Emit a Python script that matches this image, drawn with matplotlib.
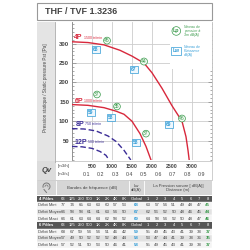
import matplotlib.pyplot as plt
import numpy as np
from matplotlib.patches import Rectangle, Arc
from matplotlib.ticker import MultipleLocator
import matplotlib.transforms as mtransforms

plt.rcParams['font.family'] = ['Liberation Sans', 'DejaVu Sans']

# fan curves (m3/h, Pa)
q_4p = [0, 400, 800, 1200, 1500, 1800, 2000, 2250, 2500, 2750, 2850, 2900, 2930]
p_4p = [305, 303, 297, 283, 268, 250, 225, 185, 140, 100, 60, 25, 0]
q_6p = [0, 400, 800, 1100, 1300, 1500, 1700, 1850, 1975]
p_6p = [143, 141, 135, 126, 118, 100, 68, 35, 0]
q_8p = [0, 300, 600, 900, 1100, 1300, 1470]
p_8p = [81, 80, 75, 62, 48, 25, 0]
q_12p = [0, 250, 500, 700, 850, 925]
p_12p = [35, 34, 30, 22, 12, 0]

# Lp circles / Lw squares on the chart
lp_q = [875, 1800, 2750, 625, 1125, 1850]
lp_p = [308, 254, 107, 169, 138, 68]
lp_txt = ['45', '44', '46', '37', '35', '37']
lw_q = [600, 1550, 2425, 475, 975, 1600]
lw_p = [285, 233, 91, 122, 110, 45]
lw_txt = ['68', '67', '69', '59', '58', '58']

m3h_ticks = [500, 1000, 1500, 2000, 2500, 3000]
m3s_ticks = [0.1, 0.2, 0.3, 0.4, 0.5, 0.6, 0.7, 0.8, 0.9]

bands = ['63', '125', '250', '500', '1K', '2K', '4K', '8K']
rows_4p = [[77, 74, 65, 63, 63, 60, 57, 53],
           [66, 58, 58, 61, 61, 63, 54, 50],
           [66, 61, 63, 64, 64, 62, 58, 52]]
rows_6p = [[68, 67, 59, 54, 54, 51, 46, 42],
           [57, 49, 50, 52, 52, 52, 48, 44],
           [57, 52, 51, 50, 53, 50, 46, 41]]
lw_4p = [68, 67, 69]
lw_6p = [59, 58, 58]
dist_4p = [[63, 57, 54, 51, 49, 48, 47, 45],
           [62, 56, 52, 50, 48, 46, 45, 44],
           [64, 58, 54, 52, 50, 48, 47, 46]]
dist_6p = [[55, 49, 45, 43, 41, 39, 38, 37],
           [53, 47, 44, 41, 39, 38, 36, 35],
           [55, 49, 45, 43, 41, 39, 38, 37]]
row_names = ['Débit Mini', 'Débit Moyen', 'Débit Maxi']

red = '#d8283c'
blue = '#3b2d96'
green = '#3a9a4c'
cyan = '#2f9bd6'
dark = '#444444'

fig = plt.figure(figsize=(2.5, 2.5), dpi=100)
bg = fig.add_axes([0, 0, 1, 1])
bg.set_xlim(0, 250)
bg.set_ylim(250, 0)
bg.axis('off')

# title box
bg.add_patch(Rectangle((37, 3), 175, 17, fc='white', ec='#999999', lw=0.8))
bg.text(45, 12, 'THF / TVF 1.3236', fontsize=6.5, fontweight='bold',
        color=dark, va='center', ha='left')

# left gray band with y label
bg.add_patch(Rectangle((37, 22), 18, 140, fc='#e4e4e4', ec='none'))
bg.plot([55, 55], [22, 162], color='#aaaaaa', lw=0.6)
bg.text(46, 88, 'Pression statique / Static pressure Pst [Pa]', rotation=90,
        fontsize=3.3, color=dark, ha='center', va='center')

# chart
ax = fig.add_axes([72 / 250, 1 - 160 / 250, 140 / 250, 138 / 250])
ax.set_xlim(0, 3500)
ax.set_ylim(0, 356)
ax.set_axisbelow(True)
ax.xaxis.set_major_locator(MultipleLocator(500))
ax.yaxis.set_major_locator(MultipleLocator(50))
ax.yaxis.set_minor_locator(MultipleLocator(10))
ax.grid(True, which='major', color='#cccccc', lw=0.6)
ax.tick_params(axis='x', length=0, labelbottom=False)
ax.tick_params(axis='y', which='both', left=True, right=True, direction='in',
               color='#888888', width=0.5, labelsize=4.3, labelcolor=dark, pad=2)
ax.tick_params(axis='y', which='major', length=3)
ax.tick_params(axis='y', which='minor', length=1.6)
ax.set_yticks([50, 100, 150, 200, 250, 300])
for lab in ax.get_yticklabels():
    lab.set_fontweight('bold')
for s in ['top', 'bottom']:
    ax.spines[s].set_visible(False)
ax.spines['left'].set_color('#888888')
ax.spines['right'].set_color('#bbbbbb')
ax.spines['left'].set_linewidth(0.6)
ax.spines['right'].set_linewidth(0.6)

# legend area (white block over the grid)
ax.add_patch(Rectangle((0.70, 0.66), 0.31, 0.35, transform=ax.transAxes,
                       fc='white', ec='none', zorder=1))

ax.plot(q_4p, p_4p, color=red, lw=1.0, zorder=3)
ax.plot(q_6p, p_6p, color=red, lw=1.0, zorder=3)
ax.plot(q_8p, p_8p, color=blue, lw=1.0, ls=(0, (4, 2)), zorder=3)
ax.plot(q_12p, p_12p, color=blue, lw=1.0, ls=(0, (4, 2)), zorder=3)

curve_labels = [('4P', '1500 tr/min', 60, 316, red),
                ('6P', '1000 tr/min', 60, 152, red),
                ('8P', '750 tr/min', 90, 92, blue),
                ('12P', '500 tr/min', 60, 46, blue)]
for big, small, xq, yp, col in curve_labels:
    t = ax.text(xq, yp, big, fontsize=5, fontweight='bold', color=col,
                va='center', ha='left', zorder=4)
    ax.annotate(small, xy=(1, 0.5), xycoords=t, xytext=(0.5, 0),
                textcoords='offset points', fontsize=2.6, color=col,
                va='center', ha='left', zorder=4)

for q, p, s in zip(lp_q, lp_p, lp_txt):
    ax.text(q, p, s, fontsize=3.6, color=green, ha='center', va='center', zorder=5,
            bbox=dict(boxstyle='circle,pad=0.12', fc='#f4fbf4', ec=green, lw=0.5))
for q, p, s in zip(lw_q, lw_p, lw_txt):
    ax.text(q, p, s, fontsize=3.5, color=cyan, ha='center', va='center', zorder=5,
            fontweight='bold',
            bbox=dict(boxstyle='square,pad=0.2', fc='#eef7fd', ec=cyan, lw=0.5))

# legend symbols
ax.text(0.745, 0.935, 'Lp', transform=ax.transAxes, fontsize=3.8, color=green,
        ha='center', va='center', fontweight='bold', zorder=5,
        bbox=dict(boxstyle='circle,pad=0.2', fc='white', ec=green, lw=0.5))
ax.text(0.80, 0.935, 'Niveau de\npression à\n3m dB(A)', transform=ax.transAxes,
        fontsize=2.5, color=green, ha='left', va='center', style='italic',
        linespacing=1.0, zorder=5)
ax.text(0.745, 0.79, 'Lw', transform=ax.transAxes, fontsize=3.6, color=cyan,
        ha='center', va='center', fontweight='bold', zorder=5,
        bbox=dict(boxstyle='square,pad=0.3', fc='white', ec=cyan, lw=0.5))
ax.text(0.80, 0.79, 'Niveau de\nPuissance\ndB(A)', transform=ax.transAxes,
        fontsize=2.5, color=cyan, ha='left', va='center', style='italic',
        linespacing=1.0, zorder=5)

# Qv row
bg.add_patch(Rectangle((37, 161), 175, 19, fc='white', ec='#bbbbbb', lw=0.5))
bg.add_patch(Rectangle((37, 161), 19, 19, fc='#dcdcdc', ec='none'))
bg.text(46.5, 170.5, 'Qv', fontsize=5.5, style='italic', fontweight='bold',
        color=dark, ha='center', va='center')
bg.text(58, 166, '[m3/h]', fontsize=3.2, color=dark, ha='left', va='center')
bg.text(58, 174.5, '[m3/s]', fontsize=3.2, color=dark, ha='left', va='center')
trans = mtransforms.blended_transform_factory(ax.transData, bg.transData)
for v in m3h_ticks:
    bg.text(v, 166, str(v), transform=trans, fontsize=3.8, fontweight='bold',
            color=dark, ha='center', va='center')
for v in m3s_ticks:
    bg.text(v * 3600, 174.5, str(v), transform=trans, fontsize=3.8,
            color=dark, ha='center', va='center')

# header row
bg.add_patch(Rectangle((37, 181), 175, 14, fc='#d6d6d6', ec='none'))
bg.plot([56, 56], [181, 195], color='white', lw=0.6)
bg.plot([129, 129], [181, 195], color='white', lw=0.6)
bg.plot([144, 144], [181, 195], color='white', lw=0.6)
# ear pictogram
bg.add_patch(Arc((46.5, 186.5), 7, 7, theta1=-200, theta2=60, color='#777777', lw=0.7))
bg.add_patch(Arc((46.5, 186.5), 3, 3, theta1=-200, theta2=30, color='#777777', lw=0.5))
bg.plot([44, 46.5], [189.5, 192.5], color='#777777', lw=0.7)
bg.text(92, 188, 'Bandes de fréquence (dB)', fontsize=3.2, color=dark,
        ha='center', va='center')
bg.text(136.5, 188, 'Lw\ndB(A)', fontsize=3.0, color=dark, ha='center',
        va='center', linespacing=1.0)
bg.text(178, 188, 'La Pression sonore [ dB(A)]\nDistance (m)', fontsize=3.0,
        color=dark, ha='center', va='center', linespacing=1.1)

band_x = [63.4 + 8.7 * i for i in range(8)]
dist_x = [148.3 + 8.5 * i for i in range(8)]
row_h = 6.6
y0 = 195.5
blocks = [('4 Pôles', rows_4p, lw_4p, dist_4p), ('6 Pôles', rows_6p, lw_6p, dist_6p)]
r = 0
for name, bandrows, lws, dists in blocks:
    y = y0 + r * row_h
    bg.add_patch(Rectangle((37, y), 175, row_h, fc='#555555', ec='none'))
    bg.text(39, y + row_h / 2, name, fontsize=3.0, color='white', fontweight='bold',
            ha='left', va='center')
    for bx, b in zip(band_x, bands):
        bg.text(bx, y + row_h / 2, b, fontsize=3.0, color='white', ha='center', va='center')
    bg.text(136.5, y + row_h / 2, 'Global', fontsize=3.0, color='white',
            ha='center', va='center')
    for i, dx in enumerate(dist_x):
        bg.text(dx, y + row_h / 2, str(i + 1), fontsize=3.0, color='white',
                ha='center', va='center')
    r += 1
    for k in range(3):
        y = y0 + r * row_h
        fc = '#e2e2e2' if k == 1 else '#f4f4f4'
        bg.add_patch(Rectangle((37, y), 175, row_h, fc=fc, ec='white', lw=0.3))
        bg.text(38.5, y + row_h / 2, row_names[k], fontsize=3.0, color=dark,
                ha='left', va='center')
        for bx, v in zip(band_x, bandrows[k]):
            bg.text(bx, y + row_h / 2, str(v), fontsize=3.2, color=dark,
                    ha='center', va='center')
        bg.text(136.5, y + row_h / 2, str(lws[k]), fontsize=3.2, color=cyan,
                ha='center', va='center', fontweight='bold')
        for j, (dx, v) in enumerate(zip(dist_x, dists[k])):
            bg.text(dx, y + row_h / 2, str(v), fontsize=3.2,
                    color=green if j == 7 else dark, ha='center', va='center',
                    fontweight='bold' if j == 7 else 'normal')
        r += 1

fig.savefig('out.png', dpi=100)
